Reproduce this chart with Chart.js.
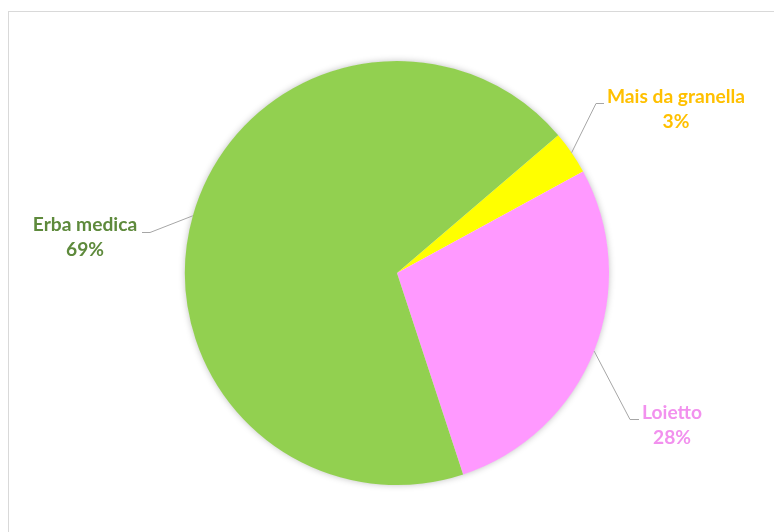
<!DOCTYPE html>
<html>
<head>
<meta charset="utf-8">
<script src="https://cdn.jsdelivr.net/npm/chart.js@4.4.1/dist/chart.umd.min.js"></script>
<style>
    html, body { margin: 0; padding: 0; background: #ffffff; }
    #wrap { width: 774px; height: 532px; position: relative; }
</style>
</head>
<body>
<div id="wrap"><canvas id="pieChart"></canvas></div>
<script>
// data (shares in %)
const categories = ['Mais da granella', 'Loietto', 'Erba medica'];
const shares = [3.3, 27.9, 68.8];

const sliceColors = ['#FFFF00', '#FF99FF', '#92D050'];
const labelColors = ['#FFC000', '#F291EE', '#5E8A3C'];

// label layout: text centre x, first baseline y, leader elbow and end
const labelLayout = [
    { x: 676, y: 103, elbow: [596, 103], end: [604, 103] },
    { x: 672, y: 419, elbow: [630, 419], end: [639, 419] },
    { x: 85,  y: 231, elbow: [150, 232], end: [142, 232] }
];

const frameAndShadow = {
    id: 'frameAndShadow',
    beforeDatasetsDraw(chart) {
        const ctx = chart.ctx;
        ctx.save();
        ctx.strokeStyle = '#D9D9D9';
        ctx.lineWidth = 1;
        ctx.strokeRect(8.5, 11.5, 900, 700);

        const arc = chart.getDatasetMeta(0).data[0];
        ctx.beginPath();
        ctx.arc(arc.x, arc.y, arc.outerRadius - 0.5, 0, Math.PI * 2);
        ctx.shadowColor = 'rgba(0,0,0,0.28)';
        ctx.shadowBlur = 7;
        ctx.fillStyle = '#ffffff';
        ctx.fill();
        ctx.restore();
    }
};

const sliceLabels = {
    id: 'sliceLabels',
    afterDraw(chart) {
        const ctx = chart.ctx;
        const meta = chart.getDatasetMeta(0);
        const data = chart.data.datasets[0].data;
        const total = data.reduce((a, b) => a + b, 0);

        ctx.save();
        // fit font so the longest label is as wide as in the picture
        ctx.font = 'bold 20px Lato';
        const size = 20 * 138 / ctx.measureText(categories[0]).width;
        ctx.font = `bold ${size.toFixed(1)}px Lato`;
        ctx.textAlign = 'center';
        ctx.textBaseline = 'alphabetic';

        meta.data.forEach((arc, i) => {
            const mid = (arc.startAngle + arc.endAngle) / 2;
            const sx = arc.x + Math.cos(mid) * arc.outerRadius;
            const sy = arc.y + Math.sin(mid) * arc.outerRadius;
            const lay = labelLayout[i];

            ctx.strokeStyle = '#A6A6A6';
            ctx.lineWidth = 1;
            ctx.beginPath();
            ctx.moveTo(sx, sy);
            ctx.lineTo(lay.elbow[0], lay.elbow[1] + 0.5);
            ctx.lineTo(lay.end[0], lay.end[1] + 0.5);
            ctx.stroke();

            const pct = Math.round(data[i] / total * 100) + '%';
            ctx.fillStyle = labelColors[i];
            ctx.fillText(chart.data.labels[i], lay.x, lay.y);
            ctx.fillText(pct, lay.x, lay.y + 25);
        });
        ctx.restore();
    }
};

new Chart(document.getElementById('pieChart'), {
    type: 'pie',
    data: {
        labels: categories,
        datasets: [{
            data: shares,
            backgroundColor: sliceColors,
            borderWidth: 0,
            hoverOffset: 0
        }]
    },
    options: {
        responsive: true,
        maintainAspectRatio: false,
        animation: false,
        rotation: 49.5,
        layout: { padding: { left: 185, right: 165, top: 61, bottom: 47 } },
        plugins: {
            legend: { display: false },
            tooltip: { enabled: false }
        }
    },
    plugins: [frameAndShadow, sliceLabels]
});
</script>
</body>
</html>
